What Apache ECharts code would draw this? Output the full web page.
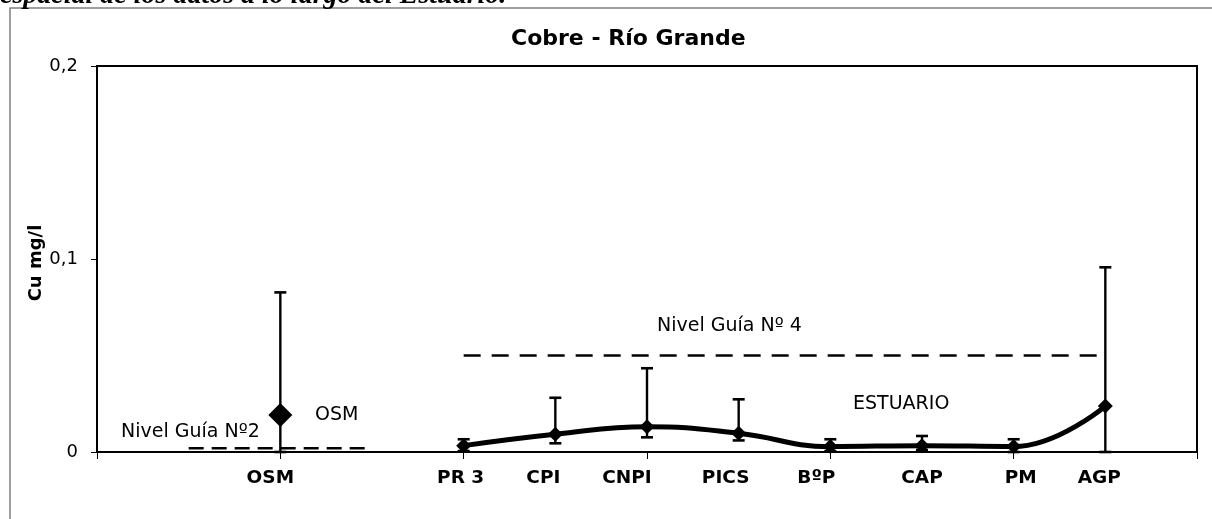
<!DOCTYPE html>
<html><head><meta charset="utf-8">
<script src="https://cdn.jsdelivr.net/npm/echarts@6/dist/echarts.min.js"></script>
<style>html,body{margin:0;padding:0;background:#fff}#c{width:1212px;height:519px}</style>
</head><body><div id="c"></div>
<script>
// ---- data ----
const categories = ['', '', 'OSM', '', 'PR 3', 'CPI', 'CNPI', 'PICS', 'BºP', 'CAP', 'PM', 'AGP', ''];
const yTickValues = [0, 0.1, 0.2];
const osmIndex = [2];
const osmMean = [0.0192];
const osmHigh = [0.0827];
const osmLow = [0];
const estIndex = [4, 5, 6, 7, 8, 9, 10, 11];
const estMean = [0.0033, 0.0092, 0.0131, 0.0097, 0.0028, 0.0033, 0.0028, 0.0238];
const estHigh = [0.0066, 0.0281, 0.0434, 0.0273, 0.0066, 0.0083, 0.0066, 0.0957];
const estLow = [0.0005, 0.0045, 0.0076, 0.0060, 0.0005, 0.0010, 0.0000, 0.0000];
const guide2X = [1, 3];
const guide2Y = [0.002, 0.002];
const guide4X = [4, 11];
const guide4Y = [0.05, 0.05];

// ---- build ----
const FONT = '"DejaVu Sans", sans-serif';
const zip = (a, b) => a.map((v, i) => [v, b[i]]);
const errData = osmIndex.map((x, i) => [x, osmLow[i], osmHigh[i]])
  .concat(estIndex.map((x, i) => [x, estLow[i], estHigh[i]]));

// small horizontal nudges of the category labels (as placed in the original)
const labelNudge = {2: -10, 4: -3, 5: -12, 6: -20, 7: -13, 8: -14, 9: 0, 10: 7, 11: -6};
const labelRich = {};
Object.keys(labelNudge).forEach(k => {
  const d = labelNudge[k];
  labelRich['s' + k] = {
    fontFamily: FONT, fontWeight: 'bold', fontSize: 18.5, color: '#000',
    padding: d < 0 ? [0, -2 * d, 0, 0] : [0, 0, 0, 2 * d]
  };
});

const chart = echarts.init(document.getElementById('c'), null, {renderer: 'canvas'});
const option = {
  backgroundColor: '#fff',
  animation: false,
  title: {
    text: 'Cobre - Río Grande', left: 506, top: 23,
    textStyle: {fontFamily: FONT, fontWeight: 'bold', fontSize: 22, color: '#000'}
  },
  grid: {left: 97, right: 15, top: 66, bottom: 67, show: true, borderColor: '#000', borderWidth: 2},
  xAxis: {
    type: 'category', data: categories, boundaryGap: false,
    axisLine: {lineStyle: {color: '#000', width: 2}},
    axisTick: {show: true, length: 7, interval: (i) => i % 2 === 0, lineStyle: {color: '#000', width: 1}},
    axisLabel: {
      interval: 0, margin: 17, color: '#000', fontFamily: FONT, fontWeight: 'bold', fontSize: 18.5,
      formatter: (value, index) => value ? '{s' + index + '|' + value + '}' : '',
      rich: labelRich
    },
    splitLine: {show: false}
  },
  yAxis: {
    type: 'value', min: yTickValues[0], max: yTickValues[yTickValues.length - 1], interval: 0.1,
    name: 'Cu mg/l', nameLocation: 'middle', nameRotate: 90, nameGap: 52, nameMoveOverlap: false,
    nameTextStyle: {fontFamily: FONT, fontWeight: 'bold', fontSize: 18, color: '#000', padding: [0, 8, 0, 0]},
    axisLine: {show: true, lineStyle: {color: '#000', width: 2}},
    axisTick: {show: true, length: 6, lineStyle: {color: '#000', width: 1}},
    axisLabel: {margin: 19, color: '#000', fontFamily: FONT, fontSize: 18,
      formatter: (v) => String(v).replace('.', ',')},
    splitLine: {show: false}
  },
  series: [
    {
      type: 'line', data: zip(guide2X, guide2Y), symbol: 'none', silent: true, z: 2,
      lineStyle: {color: '#000', width: 2.5, type: [15, 8]}
    },
    {
      type: 'line', data: zip(guide4X, guide4Y), symbol: 'none', silent: true, z: 2,
      lineStyle: {color: '#000', width: 2.5, type: [17, 11]}
    },
    {
      type: 'custom', z: 3, data: errData,
      encode: {x: 0, y: [1, 2]},
      renderItem: function (params, api) {
        const x = api.value(0), lo = api.value(1), hi = api.value(2);
        const pLo = api.coord([x, lo]), pHi = api.coord([x, hi]);
        const w = 6;
        return {type: 'group', children: [
          {type: 'line', shape: {x1: pLo[0], y1: pLo[1], x2: pHi[0], y2: pHi[1]}, style: {stroke: '#000', lineWidth: 2.4}},
          {type: 'line', shape: {x1: pHi[0] - w, y1: pHi[1], x2: pHi[0] + w, y2: pHi[1]}, style: {stroke: '#000', lineWidth: 2.6}},
          {type: 'line', shape: {x1: pLo[0] - w, y1: pLo[1], x2: pLo[0] + w, y2: pLo[1]}, style: {stroke: '#000', lineWidth: 2.6}}
        ]};
      }
    },
    {
      type: 'line', data: zip(estIndex, estMean), smooth: 0.45, z: 5,
      symbol: 'diamond', symbolSize: 15,
      lineStyle: {color: '#000', width: 5}, itemStyle: {color: '#000', opacity: 1}
    },
    {
      type: 'scatter', data: zip(osmIndex, osmMean), z: 5,
      symbol: 'diamond', symbolSize: 24, itemStyle: {color: '#000', opacity: 1}
    }
  ],
  graphic: [
    {type: 'rect', z: -10, shape: {x: 10, y: 8, width: 1240, height: 540}, style: {fill: 'none', stroke: '#808080', lineWidth: 1.5}},
    {type: 'text', x: 0, y: -4, style: {text: 'espacial de los datos a lo largo del Estuario.', font: 'italic bold 28px "Liberation Serif", serif', fill: '#000', align: 'left', verticalAlign: 'middle'}},
    {type: 'text', x: 121, y: 432, style: {text: 'Nivel Guía Nº2', font: '19px ' + FONT, fill: '#000', align: 'left', verticalAlign: 'middle'}},
    {type: 'text', x: 315, y: 415.5, style: {text: 'OSM', font: '19px ' + FONT, fill: '#000', align: 'left', verticalAlign: 'middle'}},
    {type: 'text', x: 657, y: 326.5, style: {text: 'Nivel Guía Nº 4', font: '19px ' + FONT, fill: '#000', align: 'left', verticalAlign: 'middle'}},
    {type: 'text', x: 853, y: 404, style: {text: 'ESTUARIO', font: '19px ' + FONT, fill: '#000', align: 'left', verticalAlign: 'middle'}}
  ]
};
chart.setOption(option);
</script>
</body></html>
